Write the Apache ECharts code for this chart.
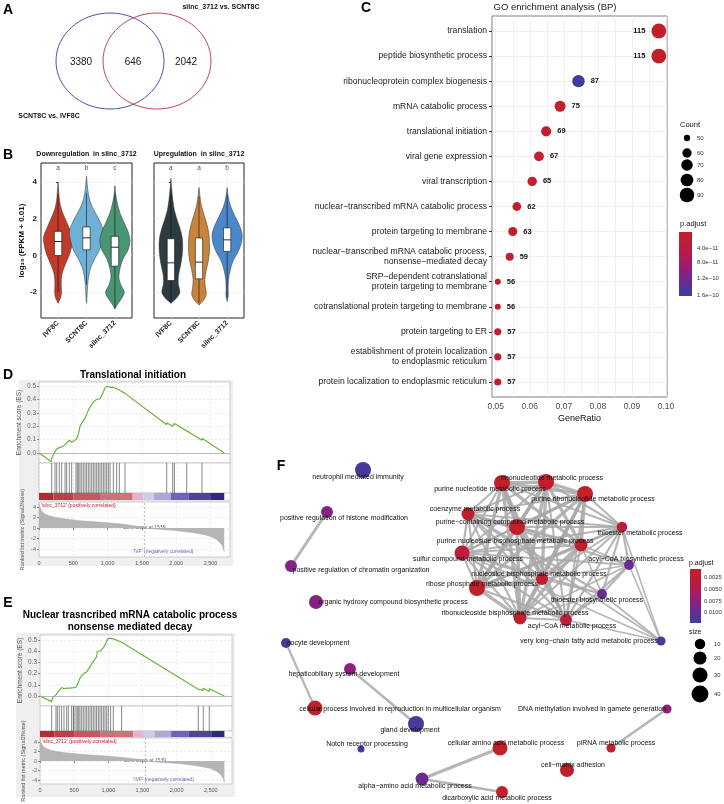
<!DOCTYPE html>
<html><head><meta charset="utf-8">
<script src="https://cdn.jsdelivr.net/npm/echarts@6/dist/echarts.min.js"></script>
<style>html,body{margin:0;padding:0;background:#fff}#c{width:724px;height:804px}</style>
</head><body><div id="c"></div>
<script>
// ================= DATA =================
// A: Venn
const vennSetNames = ['SCNT8C vs. IVF8C', 'silnc_3712 vs. SCNT8C'];
const vennCounts = [3380, 646, 2042];

// B: violins
const violinCats = ['IVF8C', 'SCNT8C', 'silnc_3712'];
const violinTitles = ['Downregulation  in silnc_3712', 'Upregulation  in silnc_3712'];
const violinLetters = [['a', 'b', 'c'], ['a', 'a', 'b']];
// density profiles: [log10 value, half width (category units)]
const downIVF = [[4.0,0],[3.5,0.025],[3.0,0.05],[2.5,0.12],[2.0,0.25],[1.5,0.39],[1.0,0.51],[0.5,0.48],[0,0.39],[-0.5,0.25],[-1,0.14],[-1.5,0.11],[-2,0.12],[-2.3,0.09],[-2.6,0]];
const downSCNT = [[4.3,0],[3.8,0.03],[3.3,0.07],[2.8,0.16],[2.3,0.32],[1.8,0.49],[1.3,0.6],[0.8,0.56],[0.3,0.46],[-0.2,0.28],[-0.7,0.14],[-1.2,0.07],[-1.7,0.035],[-2.2,0.02],[-2.6,0]];
const downSilnc = [[3.8,0],[3.3,0.03],[2.8,0.09],[2.3,0.18],[1.8,0.32],[1.3,0.46],[0.8,0.53],[0.3,0.46],[-0.2,0.28],[-0.7,0.18],[-1.2,0.14],[-1.6,0.21],[-2.0,0.33],[-2.4,0.21],[-2.7,0.07],[-2.9,0]];
const upIVF = [[4.2,0],[3.6,0.03],[3.0,0.07],[2.5,0.12],[2.0,0.21],[1.5,0.32],[1.0,0.4],[0.5,0.42],[0,0.4],[-0.5,0.35],[-1,0.28],[-1.5,0.26],[-2,0.32],[-2.3,0.21],[-2.6,0]];
const upSCNT = [[3.7,0],[3.2,0.035],[2.7,0.09],[2.2,0.18],[1.7,0.28],[1.2,0.35],[0.7,0.37],[0.2,0.37],[-0.3,0.33],[-0.8,0.26],[-1.3,0.21],[-1.8,0.23],[-2.1,0.26],[-2.4,0.18],[-2.7,0]];
const upSilnc = [[3.7,0],[3.2,0.04],[2.7,0.12],[2.2,0.26],[1.7,0.42],[1.2,0.53],[0.7,0.51],[0.2,0.39],[-0.3,0.21],[-0.8,0.11],[-1.3,0.05],[-1.8,0.035],[-2.2,0.04],[-2.5,0]];
// box: [whisker low, q1, median, q3, whisker high]
const downBoxes = [[-2.0,0.0,0.76,1.31,3.3],[-1.6,0.31,0.96,1.55,3.4],[-2.9,-0.58,0.45,1.04,3.4]];
const upBoxes = [[-2.6,-1.36,-0.4,0.91,3.3],[-2.6,-1.27,-0.36,0.95,3.2],[-2.3,0.22,0.85,1.5,3.3]];

// C: GO enrichment
const goTerms = ['translation','peptide biosynthetic process','ribonucleoprotein complex biogenesis','mRNA catabolic process','translational initiation','viral gene expression','viral transcription','nuclear\u2212transcribed mRNA catabolic process','protein targeting to membrane','nuclear\u2212transcribed mRNA catabolic process,\nnonsense\u2212mediated decay','SRP\u2212dependent cotranslational\nprotein targeting to membrane','cotranslational protein targeting to membrane','protein targeting to ER','establishment of protein localization\nto endoplasmic reticulum','protein localization to endoplasmic reticulum'];
const goRatio = [0.0979,0.0979,0.0743,0.0689,0.0648,0.0627,0.0607,0.0562,0.0550,0.0541,0.0506,0.0506,0.0506,0.0506,0.0506];
const goCount = [115,115,87,75,69,67,65,62,63,59,56,56,57,57,57];
const goPadj = [1e-13,1e-13,1.55e-10,2e-12,2e-12,2e-12,2e-12,3e-12,3e-12,3e-12,3e-12,3e-12,3e-12,3e-12,3e-12];
const goTicks = [0.05,0.06,0.07,0.08,0.09,0.10];
const goGridTicks = [0.05,0.055,0.06,0.065,0.07,0.075,0.08,0.085,0.09,0.095,0.10];
const countLegend = [50,60,70,80,90];
const goPadjLegend = ['4.0e\u221211','8.0e\u221211','1.2e\u221210','1.6e\u221210'];

// D / E: GSEA
const esTranslational = [[0,0],[100,-0.035],[175,-0.065],[185,-0.04],[233,0.01],[258,0.03],[282,0.025],[296,0.04],[330,0.045],[379,0.06],[403,0.05],[442,0.095],[476,0.08],[500,0.085],[539,0.1],[559,0.12],[578,0.15],[598,0.2],[622,0.22],[646,0.24],[671,0.26],[695,0.29],[719,0.32],[743,0.34],[768,0.35],[792,0.38],[816,0.39],[841,0.40],[865,0.40],[889,0.405],[914,0.43],[938,0.455],[962,0.485],[986,0.5],[1011,0.495],[1035,0.49],[1084,0.49],[1132,0.48],[1171,0.47],[1254,0.445],[1861,0.21],[1861,0.225],[1949,0.2],[1949,0.21],[1973,0.22],[2153,0.165],[2153,0.175],[2376,0.095],[2376,0.11],[2700,0]];
const hitsTranslational = [185,233,258,296,330,379,403,442,476,539,559,578,598,622,646,671,695,719,743,768,792,816,841,865,889,914,938,962,986,1011,1035,1084,1132,1171,1254,1861,1949,1973,2153,2376];
const esNMD = [[0,0],[100,-0.03],[171,-0.05],[180,-0.02],[234,0.01],[254,0.03],[283,0.05],[317,0.075],[351,0.065],[366,0.06],[390,0.07],[415,0.08],[440,0.07],[463,0.07],[488,0.075],[498,0.08],[512,0.075],[527,0.08],[546,0.1],[566,0.13],[585,0.16],[610,0.18],[634,0.20],[659,0.21],[683,0.215],[707,0.23],[732,0.26],[756,0.29],[780,0.31],[805,0.33],[829,0.35],[839,0.40],[878,0.40],[902,0.41],[927,0.43],[951,0.455],[976,0.49],[1000,0.515],[1024,0.52],[1034,0.515],[1073,0.51],[1195,0.48],[2317,0.06],[2317,0.075],[2390,0.05],[2390,0.07],[2478,0.04],[2478,0.065],[2700,0]];
const hitsNMD = [171,234,254,283,317,351,390,415,463,488,498,527,546,566,585,610,634,659,683,707,732,756,780,805,829,854,878,902,927,951,976,1000,1034,1073,1195,2317,2390,2478];
const rankedMetric = [[0,4.6],[15,3.9],[40,3.2],[80,2.7],[150,2.3],[250,2.0],[400,1.7],[600,1.4],[800,1.2],[1000,1.0],[1200,0.75],[1350,0.5],[1450,0.3],[1539,0],[1650,-0.15],[1800,-0.3],[1950,-0.45],[2100,-0.65],[2250,-0.9],[2400,-1.25],[2500,-1.6],[2580,-2.1],[2640,-2.8],[2680,-3.6],[2700,-4.6]];
const rankBands = [[0,209,'#B42B33'],[209,500,'#C03E4A'],[500,889,'#C95462'],[889,1365,'#D0707A'],[1365,1521,'#E2B3D2'],[1521,1676,'#CECCE6'],[1676,1919,'#B0A6D5'],[1919,2177,'#6E64B2'],[2177,2507,'#4E429F'],[2507,2700,'#2E2782']];
const zeroCross = 1539;
const esTicks = [0,0.1,0.2,0.3,0.4,0.5];
const rankTicks = [-4,-2,0,2,4];
const rankXTicks = [0,500,1000,1500,2000,2500];
const gseaTitles = [['Translational initiation'], ['Nuclear trasncribed mRNA catabolic process', 'nonsense mediated decay']];

// F: enrichment map  [name, x, y, p.adjust, gene count]
const netNodes = [
 ['neutrophil mediated immunity',363,470,0.0115,35],
 ['positive regulation of histone modification',327,512,0.0085,15],
 ['positive regulation of chromatin organization',291,566,0.0085,15],
 ['organic hydroxy compound biosynthetic process',316,602,0.0082,24],
 ['ribonucleotide metabolic process',546,482,0.0008,35],
 ['purine nucleotide metabolic process',502,483,0.0008,35],
 ['purine ribonucleotide metabolic process',585,494,0.0008,35],
 ['coenzyme metabolic process',468,514,0.0012,19],
 ['purine\u2212containing compound metabolic process',517,527,0.0008,35],
 ['thioester metabolic process',622,527,0.0028,10],
 ['purine nucleoside bisphosphate metabolic process',581,545,0.0012,19],
 ['sulfur compound metabolic process',462,553,0.003,29],
 ['acyl\u2212CoA biosynthetic process',629,565,0.0098,8],
 ['nucleoside bisphosphate metabolic process',542,579,0.0012,15],
 ['ribose phosphate metabolic process',477,588,0.0008,35],
 ['thioester biosynthetic process',602,594,0.0098,8],
 ['ribonucleoside bisphosphate metabolic process',520,618,0.0012,19],
 ['acyl\u2212CoA metabolic process',566,620,0.0028,15],
 ['very long\u2212chain fatty acid metabolic process',661,641,0.0113,6],
 ['oocyte development',286,643,0.0113,8],
 ['hepaticobiliary system development',350,669,0.0078,15],
 ['cellular process involved in reproduction in multicellular organism',315,708,0.0012,29],
 ['gland development',416,724,0.0115,35],
 ['Notch receptor processing',361,749,0.0115,2],
 ['cellular amino acid metabolic process',500,748,0.0008,29],
 ['alpha\u2212amino acid metabolic process',422,779,0.0095,19],
 ['dicarboxylic acid metabolic process',502,792,0.0012,15],
 ['DNA methylation involved in gamete generation',667,709,0.0078,6],
 ['piRNA metabolic process',611,748,0.0012,6],
 ['cell\u2212matrix adhesion',567,770,0.0012,24]
];
const nucleotideGroup = [4,5,6,8,10,13,14,16];
const cofactorGroup = [7,11,9,17];
const acylGroup = [12,15];
const vlcfaLinks = [9,12,15,17,7,11];
const pairLinks = [[1,2,0.7],[19,21,0.45],[20,22,0.55],[24,25,0.8],[25,26,0.5],[27,28,0.6]];
const netPadjLegend = ['0.0025','0.0050','0.0075','0.0100'];
const netSizeLegend = [10,20,30,40];

// ================= STYLE / LAYOUT =================
const FONT = '"Liberation Sans", Arial, "DejaVu Sans", sans-serif';
const grid = [], xAxis = [], yAxis = [], series = [], graphic = [];

function T(x, y, text, o) {
  o = o || {};
  graphic.push({type:'text', x:x, y:y, rotation:o.rot || 0, z:100, silent:true, style:{
    text:text, fill:o.color || '#111', fontSize:o.size || 8, fontWeight:o.bold ? 'bold' : 'normal', fontFamily:FONT,
    align:o.align || 'center', verticalAlign:o.va || 'middle', textAlign:o.align || 'center', textVerticalAlign:o.va || 'middle'}});
}
function lerpColor(stops, t) {
  t = Math.max(0, Math.min(1, t));
  for (let i = 1; i < stops.length; i++) {
    if (t <= stops[i][0]) {
      const a = stops[i-1], b = stops[i], f = (t - a[0]) / (b[0] - a[0]);
      const ca = a[1].match(/\w\w/g).map(h=>parseInt(h,16)), cb = b[1].match(/\w\w/g).map(h=>parseInt(h,16));
      return 'rgb(' + ca.map((v,k)=>Math.round(v + (cb[k]-v)*f)).join(',') + ')';
    }
  }
  return stops[stops.length-1][1];
}
const redBlue = [[0,'#C1202B'],[0.3,'#B81B45'],[0.55,'#9A1B78'],[0.75,'#6E2A8E'],[1,'#3B3F9E']];
const gradStops = redBlue.map(s=>({offset:s[0], color:s[1]}));

// ---------- Panel letters ----------
[['A',8,10],['B',8,155],['C',366,8],['D',8,375],['E',8,603],['F',281,466]].forEach(p=>T(p[1],p[2],p[0],{size:14,bold:true,color:'#000'}));

// ---------- A: Venn ----------
graphic.push({type:'ellipse', shape:{cx:110, cy:61, rx:54, ry:48}, style:{fill:'none', stroke:'#4F4FB0', lineWidth:1}});
graphic.push({type:'ellipse', shape:{cx:157, cy:61, rx:54, ry:48}, style:{fill:'none', stroke:'#C04850', lineWidth:1}});
T(81, 62, String(vennCounts[0]), {size:10, color:'#222'});
T(133, 62, String(vennCounts[1]), {size:10, color:'#222'});
T(186, 62, String(vennCounts[2]), {size:10, color:'#222'});
T(49, 116, vennSetNames[0], {size:7, bold:true});
T(221, 7, vennSetNames[1], {size:7, bold:true});

// ---------- B: violins ----------
function violinPanel(left, width, profiles, boxes, colors, showY, title, letters) {
  const gi = grid.length;
  grid.push({left:left, top:163, width:width, height:155, show:true, borderColor:'#222', borderWidth:1, backgroundColor:'#fff'});
  xAxis.push({type:'value', gridIndex:gi, min:-0.6, max:2.6, axisLine:{show:false},
    axisTick:{show:true, customValues:[0,1,2], length:2, lineStyle:{color:'#333'}},
    axisLabel:{show:true, customValues:[0,1,2], formatter:v=>violinCats[Math.round(v)], rotate:45, fontSize:7, fontWeight:'bold', color:'#222', margin:4},
    splitLine:{show:true, lineStyle:{color:'#EDEDED', width:0.6}}});
  yAxis.push({type:'value', gridIndex:gi, min:-3.4, max:5.03, axisLine:{show:false},
    axisTick:{show:true, customValues:[-2,0,2,4], length:2, lineStyle:{color:'#333'}},
    axisLabel:{show:showY, customValues:[-2,0,2,4], fontSize:8, fontWeight:'bold', color:'#222', margin:4},
    splitLine:{show:true, lineStyle:{color:'#EDEDED', width:0.6}},
    name: showY ? 'log\u2081\u2080 (FPKM + 0.01)' : '', nameLocation:'middle', nameGap:13,
    nameTextStyle:{fontSize:8, fontWeight:'bold', color:'#111'}});
  const xi = xAxis.length-1, yi = yAxis.length-1;
  series.push({type:'custom', xAxisIndex:xi, yAxisIndex:yi, data:[[0,0],[1,0],[2,0]], encode:{x:0, y:1},
    renderItem:function(params, api) {
      const i = params.dataIndex, prof = profiles[i], b = boxes[i], bw = 0.13;
      const pts = prof.map(p=>api.coord([i + p[1], p[0]])).concat(prof.slice().reverse().map(p=>api.coord([i - p[1], p[0]])));
      const p1 = api.coord([i - bw, b[3]]), p2 = api.coord([i + bw, b[1]]);
      const m1 = api.coord([i - bw, b[2]]), m2 = api.coord([i + bw, b[2]]);
      const wt = api.coord([i, b[4]]), wb = api.coord([i, b[0]]);
      return {type:'group', children:[
        {type:'polygon', shape:{points:pts, smooth:0.3}, style:{fill:colors[i], stroke:'#333', lineWidth:0.5}},
        {type:'line', shape:{x1:wt[0], y1:wt[1], x2:wb[0], y2:wb[1]}, style:{stroke:'#111', lineWidth:0.6}},
        {type:'rect', shape:{x:p1[0], y:p1[1], width:p2[0]-p1[0], height:p2[1]-p1[1]}, style:{fill:'#fff', stroke:'#111', lineWidth:0.6}},
        {type:'line', shape:{x1:m1[0], y1:m1[1], x2:m2[0], y2:m2[1]}, style:{stroke:'#111', lineWidth:0.9}}
      ]};
    }});
  series.push({type:'scatter', xAxisIndex:xi, yAxisIndex:yi, symbolSize:0, silent:true,
    data:letters.map((l,i)=>({value:[i, 4.75], name:l})),
    label:{show:true, position:'inside', formatter:p=>p.name, fontSize:6.5, color:'#222'}});
  T(left + width/2, 154, title, {size:7, bold:true});
}
violinPanel(41, 91, [downIVF, downSCNT, downSilnc], downBoxes, ['#C23B2A','#6FB1D6','#4A9576'], true, violinTitles[0], violinLetters[0]);
violinPanel(154, 90, [upIVF, upSCNT, upSilnc], upBoxes, ['#2E3B41','#C8843A','#4A88CC'], false, violinTitles[1], violinLetters[1]);

// ---------- C: GO dot plot ----------
function dotD(c) { return 6 + 1.15 * Math.sqrt(Math.max(c - 56, 0)); }
(function(){
  const gi = grid.length;
  grid.push({left:492, top:16, width:175, height:381, show:true, borderColor:'#7F7F7F', borderWidth:1, backgroundColor:'#fff'});
  xAxis.push({type:'value', gridIndex:gi, min:0.0489, max:0.1003, axisLine:{show:false},
    axisTick:{show:false, customValues:goGridTicks},
    axisLabel:{customValues:goTicks, formatter:v=>v.toFixed(2), fontSize:8.5, color:'#4D4D4D', margin:5},
    splitLine:{show:true, lineStyle:{color:'#EBEBEB', width:0.7}},
    name:'GeneRatio', nameLocation:'middle', nameGap:17, nameTextStyle:{fontSize:9, color:'#111'}});
  const yvals = goTerms.map((t,i)=>i);
  yAxis.push({type:'value', gridIndex:gi, min:-0.6, max:14.6, inverse:true, axisLine:{show:false},
    axisTick:{show:true, customValues:yvals, length:3, lineStyle:{color:'#333'}},
    axisLabel:{customValues:yvals, formatter:v=>goTerms[Math.round(v)], fontSize:8.6, color:'#1A1A1A', margin:5, lineHeight:10},
    splitLine:{show:true, lineStyle:{color:'#EBEBEB', width:0.8}}});
  const xi = xAxis.length-1, yi = yAxis.length-1;
  series.push({type:'scatter', xAxisIndex:xi, yAxisIndex:yi,
    data:goRatio.map((r,i)=>({value:[r, i, goCount[i], goPadj[i]],
      symbolSize:dotD(goCount[i]),
      itemStyle:{color:lerpColor(redBlue, goPadj[i]/1.6e-10), opacity:1},
      label:{position: i < 2 ? 'left' : 'right'}})),
    label:{show:true, formatter:p=>p.value[2], fontSize:7.5, fontWeight:'bold', color:'#111', distance:6}});
  T(555, 7, 'GO enrichment analysis (BP)', {size:9.5, color:'#1A1A1A'});
  // Count legend
  T(680, 125, 'Count', {size:7.5, align:'left'});
  const ly = [138,153,165,180,195], ld = [6.3,9.3,11.5,12.7,14.5];
  countLegend.forEach((c,i)=>{
    graphic.push({type:'circle', shape:{cx:687, cy:ly[i], r:ld[i]/2}, style:{fill:'#000'}});
    T(697, ly[i], String(c), {size:6, align:'left', color:'#333'});
  });
  // p.adjust legend
  T(680, 224, 'p.adjust', {size:7.5, align:'left'});
  graphic.push({type:'rect', shape:{x:679, y:232, width:13, height:64},
    style:{fill:{type:'linear', x:0, y:0, x2:0, y2:1, colorStops:gradStops}}});
  [248,262,278,295].forEach((y,i)=>T(697, y, goPadjLegend[i], {size:6, align:'left', color:'#333'}));
})();

// ---------- D / E: GSEA ----------
function gseaPanel(g, esPts, hits, titleLines) {
  graphic.push({type:'rect', z:-10, shape:{x:g.ox, y:g.oy, width:g.ow, height:g.oh}, style:{fill:'#EFEFEF'}});
  titleLines.forEach((t,k)=>T(g.tx, g.ty + k*12, t, {size:10, bold:true, color:'#000'}));
  const mkX = (gi, labels) => ({type:'value', gridIndex:gi, min:0, max:g.xMax, axisLine:{show:false},
    axisTick:{show:labels, customValues:rankXTicks, length:2, lineStyle:{color:'#888'}},
    axisLabel:{show:labels, customValues:rankXTicks, formatter:v=>v.toLocaleString('en-US'), fontSize:5.5, color:'#555', margin:3},
    splitLine:{show:true, lineStyle:{color:'#D5D5D5', type:[2,2], width:0.5}}});
  const border = {show:true, backgroundColor:'#fff', borderColor:'#B0B0B0', borderWidth:0.6};
  // ES
  let gi = grid.length;
  grid.push(Object.assign({left:g.l, top:g.esTop, width:g.w, height:g.esH}, border));
  xAxis.push(mkX(gi, false));
  yAxis.push({type:'value', gridIndex:gi, min:g.esMin, max:g.esMax, axisLine:{show:false},
    axisTick:{show:true, customValues:esTicks, length:2, lineStyle:{color:'#888'}},
    axisLabel:{customValues:esTicks, formatter:v=>v.toFixed(1), fontSize:6.5, color:'#666', margin:3},
    splitLine:{show:true, lineStyle:{color:'#D5D5D5', type:[2,2], width:0.5}},
    name:'Enrichment score (ES)', nameLocation:'middle', nameGap:14, nameTextStyle:{fontSize:6.5, color:'#555'}});
  series.push({type:'line', xAxisIndex:xAxis.length-1, yAxisIndex:yAxis.length-1, data:esPts, showSymbol:false, symbol:'none',
    lineStyle:{color:'#6DB33F', width:1.2},
    markLine:{silent:true, symbol:'none', label:{show:false}, lineStyle:{color:'#A8A8A8', type:'solid', width:0.8}, data:[{yAxis:0}]}});
  // hits
  gi = grid.length;
  grid.push(Object.assign({left:g.l, top:g.hitTop, width:g.w, height:g.hitH}, border));
  xAxis.push(mkX(gi, false));
  yAxis.push({type:'value', gridIndex:gi, min:0, max:1, show:false});
  series.push({type:'custom', xAxisIndex:xAxis.length-1, yAxisIndex:yAxis.length-1, data:hits.map(h=>[h, 0]), encode:{x:0, y:1},
    renderItem:function(params, api){
      const a = api.coord([api.value(0), 0]), b = api.coord([api.value(0), 1]);
      return {type:'line', shape:{x1:a[0], y1:a[1], x2:b[0], y2:b[1]}, style:{stroke:'#2A2A2A', lineWidth:0.7, opacity:0.8}};
    }});
  // colour bar
  gi = grid.length;
  grid.push({left:g.l, top:g.barTop, width:g.w, height:g.barH, show:true, backgroundColor:'#fff', borderColor:'#B0B0B0', borderWidth:0.4});
  xAxis.push({type:'value', gridIndex:gi, min:0, max:g.xMax, show:false});
  yAxis.push({type:'value', gridIndex:gi, min:0, max:1, show:false});
  series.push({type:'custom', xAxisIndex:xAxis.length-1, yAxisIndex:yAxis.length-1, data:rankBands.map(b=>[b[0], b[1]]), encode:{x:[0,1]},
    renderItem:function(params, api){
      const a = api.coord([api.value(0), 1]), b = api.coord([api.value(1), 0]);
      return {type:'rect', shape:{x:a[0], y:a[1], width:b[0]-a[0], height:b[1]-a[1]}, style:{fill:rankBands[params.dataIndex][2]}};
    }});
  // ranked metric
  gi = grid.length;
  grid.push(Object.assign({left:g.l, top:g.rkTop, width:g.w, height:g.rkH}, border));
  xAxis.push(mkX(gi, true));
  yAxis.push({type:'value', gridIndex:gi, min:g.rkMin, max:g.rkMax, axisLine:{show:false},
    axisTick:{show:true, customValues:rankTicks, length:2, lineStyle:{color:'#888'}},
    axisLabel:{customValues:rankTicks, fontSize:5.5, color:'#666', margin:3},
    splitLine:{show:true, lineStyle:{color:'#D5D5D5', type:[2,2], width:0.5}},
    name:'Ranked list metric (Signal2Noise)', nameLocation:'middle', nameGap:14, nameTextStyle:{fontSize:5.5, color:'#555'}});
  const xi = xAxis.length-1, yi = yAxis.length-1;
  series.push({type:'line', xAxisIndex:xi, yAxisIndex:yi, data:rankedMetric, showSymbol:false, symbol:'none',
    lineStyle:{color:'#A8A8A8', width:0.5}, areaStyle:{color:'#B5B5B5', opacity:1},
    markLine:{silent:true, symbol:'none', label:{show:false}, lineStyle:{color:'#999', type:[2,2], width:0.6}, data:[{xAxis:zeroCross}]}});
  series.push({type:'scatter', xAxisIndex:xi, yAxisIndex:yi, symbolSize:0, silent:true,
    data:[{value:[zeroCross, 0], name:'Zero cross at ' + zeroCross, label:{color:'#333'}},
          {value:[1810, g.rkMin*0.82], name:"'IVF' (negatively correlated)", label:{color:'#3A3AA8'}}],
    label:{show:true, position:'inside', formatter:p=>p.name, fontSize:5}});
  T(g.l + 2, g.rkTop + 1.5, "'silnc_3712' (positively correlated)", {size:5, align:'left', va:'top', color:'#C8202E'});
}
gseaPanel({ox:19, oy:380, ow:214, oh:186, tx:133, ty:375, l:39, w:191, xMax:2784,
  esTop:382, esH:81, esMin:-0.075, esMax:0.53, hitTop:463, hitH:30, barTop:493, barH:7,
  rkTop:502, rkH:55, rkMin:-5.52, rkMax:4.95}, esTranslational, hitsTranslational, gseaTitles[0]);
gseaPanel({ox:16, oy:633, ow:219, oh:164, tx:130, ty:615, l:40, w:192, xMax:2811,
  esTop:635, esH:71, esMin:-0.089, esMax:0.545, hitTop:706, hitH:25, barTop:731, barH:6,
  rkTop:738, rkH:46, rkMin:-4.84, rkMax:4.84}, esNMD, hitsNMD, gseaTitles[1]);

// ---------- F: enrichment map ----------
(function(){
  const pMin = 0.0008, pMax = 0.01235;
  const nodeD = s => 4.2 + 2 * Math.sqrt(s);
  const labelOffsets = [[-5,7],[17,6],[70,4],[77,0],[6,-4],[-12,6],[8,5],[7,-5],[-7,-5],[18,6],[-66,-4],[6,6],[7,-6],[-3,-5],[5,-4],[-5,6],[-5,-5],[6,6],[-72,0],[32,0],[-6,5],[85,1],[-6,6],[6,-5],[6,-5],[-7,7],[-5,6],[-75,0],[5,-5],[6,-5]];
  const links = [];
  const add = (a,b,w)=>links.push({source:a, target:b, lineStyle:{width:0.8 + 3.2*w}});
  for (let i=0;i<nucleotideGroup.length;i++) for (let j=i+1;j<nucleotideGroup.length;j++) add(nucleotideGroup[i], nucleotideGroup[j], 0.8);
  cofactorGroup.forEach(c=>nucleotideGroup.forEach(n=>add(c, n, 0.4)));
  const cof = cofactorGroup.concat(acylGroup);
  for (let i=0;i<cof.length;i++) for (let j=i+1;j<cof.length;j++) add(cof[i], cof[j], 0.45);
  acylGroup.forEach(a=>[10,13,16].forEach(n=>add(a, n, 0.3)));
  vlcfaLinks.forEach(n=>add(18, n, 0.25));
  pairLinks.forEach(p=>add(p[0], p[1], p[2]));
  const gi = grid.length;
  grid.push({left:270, top:430, width:454, height:374, show:false});
  xAxis.push({type:'value', gridIndex:gi, min:270, max:724, show:false});
  yAxis.push({type:'value', gridIndex:gi, min:430, max:804, inverse:true, show:false});
  series.push({type:'graph', coordinateSystem:'cartesian2d', xAxisIndex:xAxis.length-1, yAxisIndex:yAxis.length-1,
    layout:'none', silent:true, edgeSymbol:['none','none'],
    data:netNodes.map((n,i)=>({name:n[0], value:[n[1], n[2]], symbolSize:nodeD(n[4]),
      itemStyle:{color:lerpColor(redBlue, (n[3]-pMin)/(pMax-pMin))},
      label:{offset:labelOffsets[i]}})),
    links:links,
    lineStyle:{color:'#A9A9A9', opacity:0.85, curveness:0},
    label:{show:true, position:'inside', fontSize:7, color:'#111', formatter:p=>p.name}});
  // legends
  T(689, 563, 'p.adjust', {size:7, align:'left'});
  graphic.push({type:'rect', shape:{x:690, y:569, width:11, height:54},
    style:{fill:{type:'linear', x:0, y:0, x2:0, y2:1, colorStops:gradStops}}});
  [577,589,601,612].forEach((y,i)=>T(704, y, netPadjLegend[i], {size:5.8, align:'left', color:'#333'}));
  T(689, 632, 'size', {size:7, align:'left'});
  [644,658,675,694].forEach((y,i)=>{
    graphic.push({type:'circle', shape:{cx:700, cy:y, r:nodeD(netSizeLegend[i])/2}, style:{fill:'#000'}});
    T(714, y, String(netSizeLegend[i]), {size:5.8, align:'left', color:'#333'});
  });
})();

const chart = echarts.init(document.getElementById('c'), null, {renderer:'canvas', width:724, height:804});
chart.setOption({animation:false, backgroundColor:'#fff', textStyle:{fontFamily:FONT},
  grid:grid, xAxis:xAxis, yAxis:yAxis, series:series, graphic:{elements:graphic}});
</script></body></html>
